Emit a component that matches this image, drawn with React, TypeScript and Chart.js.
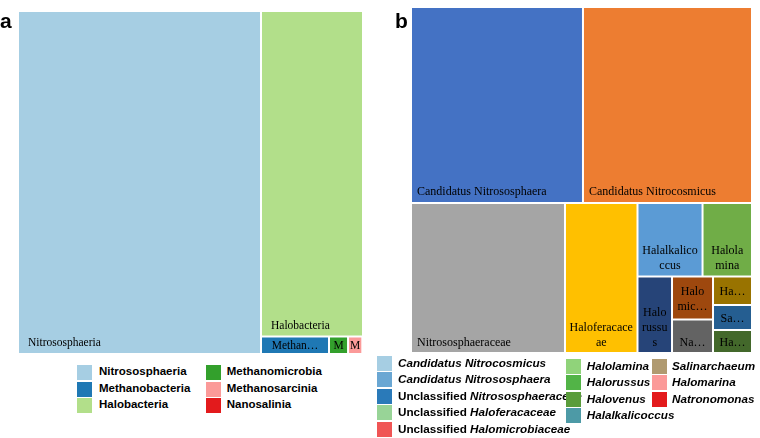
import React, { useEffect, useRef } from 'react';
import { Chart, registerables, DatasetController } from 'chart.js';

// ---------------- data ----------------
const classNames = ['Nitrososphaeria', 'Halobacteria', 'Methanobacteria', 'Methanomicrobia', 'Methanosarcinia', 'Nanosalinia'];
const classValues = [70.43, 28.06, 1.0, 0.28, 0.21, 0.01];
const classColors = ['#a6cee3', '#b2df8a', '#1f78b4', '#33a02c', '#fb9a99', '#e31a1c'];
// grouping of cells (h = side by side, v = stacked)
const classTree = { dir: 'h', items: [0, { dir: 'v', items: [1, { dir: 'h', items: [2, 3, 4, 5] }] }] };

const genusNames = [
  'Candidatus Nitrososphaera', 'Candidatus Nitrocosmicus', 'Nitrososphaeraceae', 'Haloferacaceae',
  'Halalkalicoccus', 'Halolamina', 'Halorussus', 'Halomicrobiaceae', 'Natronomonas',
  'Halovenus', 'Salinarchaeum', 'Halomarina',
];
const genusValues = [28.57, 28.08, 19.58, 9.22, 4.05, 3.08, 2.24, 1.5, 1.16, 0.94, 0.83, 0.76];
const genusColors = ['#4472c4', '#ed7d31', '#a5a5a5', '#ffc000', '#5b9bd5', '#70ad47', '#264478', '#9e480e', '#636363', '#997300', '#255e91', '#43682b'];
const genusTree = {
  dir: 'v',
  items: [
    { dir: 'h', items: [0, 1] },
    {
      dir: 'h',
      items: [2, 3, {
        dir: 'v',
        items: [
          { dir: 'h', items: [4, 5] },
          { dir: 'h', items: [6, { dir: 'v', items: [7, 8] }, { dir: 'v', items: [9, 10, 11] }] },
        ],
      }],
    },
  ],
};

// legend a
const legendAOrder = [0, 2, 1, 3, 4, 5];
// legend b (prefix, italic name, colour)
const legendBPrefix = ['', '', 'Unclassified ', 'Unclassified ', 'Unclassified ', '', '', '', '', '', '', ''];
const legendBNames = [
  'Candidatus Nitrocosmicus', 'Candidatus Nitrososphaera', 'Nitrososphaeraceae', 'Haloferacaceae', 'Halomicrobiaceae',
  'Halolamina', 'Halorussus', 'Halovenus', 'Halalkalicoccus',
  'Salinarchaeum', 'Halomarina', 'Natronomonas',
];
const legendBColors = [
  '#a6cee3', '#6aa7d3', '#2a7ab9', '#98d497', '#f05555',
  '#90d37a', '#52b447', '#5a9c3b', '#4d9aa6',
  '#b09a70', '#fb9a99', '#e31a1c',
];

// ---------------- treemap layout ----------------
type TNode = number | { dir: string; items: TNode[] };
function nodeSum(n: TNode, values: number[]): number {
  return typeof n === 'number' ? values[n] : n.items.reduce((s, c) => s + nodeSum(c, values), 0);
}
function layoutTree(n: TNode, values: number[], x0: number, y0: number, x1: number, y1: number, out: any[]) {
  if (typeof n === 'number') {
    out[n] = { x0, y0, x1, y1 };
    return;
  }
  const total = nodeSum(n, values);
  let pos = n.dir === 'h' ? x0 : y0;
  for (const c of n.items) {
    const frac = nodeSum(c, values) / total;
    if (n.dir === 'h') {
      const w = (x1 - x0) * frac;
      layoutTree(c, values, pos, y0, pos + w, y1, out);
      pos += w;
    } else {
      const h = (y1 - y0) * frac;
      layoutTree(c, values, x0, pos, x1, pos + h, out);
      pos += h;
    }
  }
}

class TreemapBoxController extends (DatasetController as any) {
  static id = 'treemapBox';
  static defaults = { dataElementType: 'bar', datasetElementType: false };
  static overrides = {};
  parse() {}
  update(mode: string) {
    const meta = this._cachedMeta;
    this.updateElements(meta.data, 0, meta.data.length, mode);
  }
  updateElements(elems: any[], start: number, count: number, mode: string) {
    const meta = this._cachedMeta;
    const xs = meta.xScale;
    const ys = meta.yScale;
    const ds = this.getDataset();
    const rects: any[] = [];
    layoutTree(ds.tree, ds.data, 0, 0, 100, 100, rects);
    for (let i = start; i < start + count; i++) {
      const r = rects[i];
      if (!r) continue;
      const l = xs.getPixelForValue(r.x0);
      const rr = xs.getPixelForValue(r.x1);
      const t = ys.getPixelForValue(r.y0);
      const b = ys.getPixelForValue(r.y1);
      const props = {
        x: (l + rr) / 2,
        width: Math.abs(rr - l),
        y: Math.min(t, b),
        base: Math.max(t, b),
        height: Math.abs(b - t),
        horizontal: false,
        borderSkipped: { top: false, bottom: false, left: false, right: false },
        inflateAmount: 0,
        enableBorderRadius: false,
        options: this.resolveDataElementOptions(i, mode),
      };
      this.updateElement(elems[i], i, props, mode);
    }
  }
}

Chart.register(...registerables, TreemapBoxController as any);

function wrapLabel(ctx: CanvasRenderingContext2D, text: string, avail: number): string[] {
  const m = (s: string) => ctx.measureText(s).width;
  const words = text.split(' ');
  const lines: string[] = [];
  let cur = '';
  for (const w of words) {
    const trial = cur ? cur + ' ' + w : w;
    if (m(trial) <= avail) {
      cur = trial;
      continue;
    }
    if (cur) {
      lines.push(cur);
      cur = '';
    }
    let rest = w;
    while (m(rest) > avail && rest.length > 1) {
      let k = 1;
      while (k < rest.length && m(rest.slice(0, k + 1)) <= avail) k++;
      lines.push(rest.slice(0, k));
      rest = rest.slice(k);
    }
    cur = rest;
  }
  if (cur) lines.push(cur);
  return lines;
}

const cellLabels = {
  id: 'cellLabels',
  afterDatasetsDraw(chart: any, _args: any, opts: any) {
    const ctx: CanvasRenderingContext2D = chart.ctx;
    const meta = chart.getDatasetMeta(0);
    const names: string[] = chart.data.labels;
    const size = opts.size;
    const lineH = size * 1.22;
    const bw = 1;
    const m = (s: string) => ctx.measureText(s).width;
    ctx.save();
    ctx.font = `${size}px "Liberation Serif", "Times New Roman", serif`;
    ctx.fillStyle = '#000000';
    ctx.textBaseline = 'alphabetic';
    meta.data.forEach((el: any, i: number) => {
      const name = names[i];
      const left = el.x - el.width / 2 + bw;
      const right = el.x + el.width / 2 - bw;
      const top = el.y + bw;
      const bottom = el.base - bw;
      const iw = right - left;
      const ih = bottom - top;
      if (iw < 6 || ih < 8) return;
      if (m(name) <= iw - 2 * opts.padX && ih >= lineH + opts.padB) {
        ctx.textAlign = 'left';
        ctx.fillText(name, left + opts.padX, bottom - opts.padB);
        return;
      }
      const avail = iw - 7;
      let lines = wrapLabel(ctx, name, avail);
      const maxLines = Math.max(1, Math.floor((ih - 4) / lineH));
      const ellAvail = maxLines === 1 ? iw - opts.ellX : avail;
      if (lines.length > maxLines) {
        lines = lines.slice(0, maxLines);
        let last = lines[maxLines - 1];
        while (last.length > 1 && m(last + '\u2026') > ellAvail) last = last.slice(0, -1);
        if (m(last + '\u2026') <= avail) last += '\u2026';
        lines[maxLines - 1] = last;
      }
      ctx.textAlign = 'center';
      const cx = (left + right) / 2;
      let baseLast = bottom - opts.padB;
      if (ih < lines.length * lineH + 2 * opts.padB) {
        baseLast = (top + bottom) / 2 + (lines.length - 1) * lineH / 2 + size * 0.35;
      }
      lines.forEach((ln, j) => {
        ctx.fillText(ln, cx, baseLast - (lines.length - 1 - j) * lineH);
      });
    });
    ctx.restore();
  },
};

function TreemapPanel(props: any) {
  const ref = useRef<HTMLCanvasElement>(null);
  const { left, width, height, padding, names, values, colors, tree, fontSize, padX, padB, ellX } = props;
  useEffect(() => {
    const chart = new Chart(ref.current as HTMLCanvasElement, {
      type: 'treemapBox' as any,
      data: {
        labels: names,
        datasets: [{ data: values, tree, backgroundColor: colors, borderColor: '#ffffff', borderWidth: 1 } as any],
      },
      options: {
        responsive: false,
        animation: false,
        events: [],
        layout: { padding },
        scales: {
          x: { type: 'linear', min: 0, max: 100, display: false },
          y: { type: 'linear', min: 0, max: 100, reverse: true, display: false },
        },
        plugins: {
          legend: { display: false },
          tooltip: { enabled: false },
          cellLabels: { size: fontSize, padX, padB, ellX },
        } as any,
      } as any,
      plugins: [cellLabels as any],
    });
    return () => chart.destroy();
  }, []);
  return (
    <canvas
      ref={ref}
      width={width}
      height={height}
      style={{ position: 'absolute', left, top: 0, width, height }}
    />
  );
}

const legendFont = '"Liberation Sans", Arial, Helvetica, sans-serif';

function LegendRow({ x, textX, y, color, size, children }: any) {
  return (
    <>
      <div
        style={{
          position: 'absolute', left: textX, top: y, height: 15, lineHeight: '15px',
          font: `bold ${size}px ${legendFont}`, color: '#000', whiteSpace: 'nowrap',
        }}
      >
        {children}
      </div>
      <div style={{ position: 'absolute', left: x, top: y, width: 15, height: 15, background: color, zIndex: 1 }} />
    </>
  );
}

export default function App() {
  const aTops = [365, 381.5, 398];
  const bTops1 = [356, 372.4, 388.8, 405.2, 421.6];
  const bTops2 = [358.5, 375, 391.5, 408];
  return (
    <div style={{ position: 'absolute', left: 0, top: 0, width: 760, height: 438, background: '#ffffff', overflow: 'hidden' }}>
      <TreemapPanel
        left={0} width={380} height={360}
        padding={{ left: 18, right: 17, top: 11, bottom: 6 }}
        names={classNames} values={classValues} colors={classColors} tree={classTree}
        fontSize={11.5} padX={9} padB={7} ellX={16}
      />
      <TreemapPanel
        left={380} width={380} height={360}
        padding={{ left: 31, right: 8, top: 7, bottom: 7 }}
        names={genusNames} values={genusValues} colors={genusColors} tree={genusTree}
        fontSize={12} padX={5} padB={6.5} ellX={10}
      />
      <div style={{ position: 'absolute', left: 0, top: 10, font: `bold 21px ${legendFont}`, lineHeight: '21px' }}>a</div>
      <div style={{ position: 'absolute', left: 395, top: 10, font: `bold 21px ${legendFont}`, lineHeight: '21px' }}>b</div>

      {legendAOrder.map((idx, k) => {
        const col = k < 3 ? 0 : 1;
        const row = k % 3;
        return (
          <LegendRow key={'a' + k} x={col === 0 ? 77 : 205.7} textX={col === 0 ? 99 : 226.7} y={aTops[row]} color={classColors[idx]} size={11.5}>
            {classNames[idx]}
          </LegendRow>
        );
      })}

      {legendBNames.map((name, k) => {
        let x = 377, tx = 398, y = 0;
        if (k < 5) { y = bTops1[k]; }
        else if (k < 9) { x = 565.5; tx = 586.7; y = bTops2[k - 5]; }
        else { x = 651.7; tx = 672; y = bTops2[k - 9]; }
        return (
          <LegendRow key={'b' + k} x={x} textX={tx} y={y} color={legendBColors[k]} size={11.7}>
            {legendBPrefix[k]}
            <span style={{ fontStyle: 'italic' }}>{name}</span>
          </LegendRow>
        );
      })}
    </div>
  );
}
